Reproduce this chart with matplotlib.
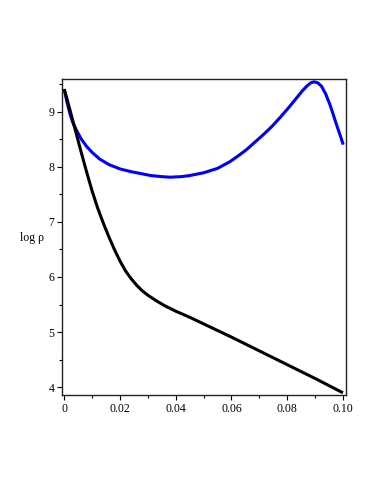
import matplotlib
matplotlib.use("Agg")
import matplotlib.pyplot as plt
from matplotlib.ticker import MultipleLocator, FixedLocator

# blue curve
x_blue = [0, 0.001, 0.002, 0.003, 0.0043, 0.006, 0.008, 0.010, 0.0127, 0.016,
          0.020, 0.024, 0.0271, 0.031, 0.035, 0.038, 0.042, 0.045, 0.050, 0.055,
          0.0594, 0.0625, 0.0654, 0.0685, 0.0714, 0.0745, 0.0774, 0.0805, 0.0834, 0.0855,
          0.0870, 0.0884, 0.0896, 0.0910, 0.0923, 0.0938, 0.0953, 0.0965, 0.0977, 0.0990,
          0.1001]
y_blue = [9.40, 9.17, 8.97, 8.81, 8.67, 8.51, 8.37, 8.26, 8.14, 8.04,
          7.96, 7.91, 7.88, 7.84, 7.82, 7.81, 7.82, 7.84, 7.89, 7.97,
          8.09, 8.20, 8.31, 8.45, 8.58, 8.73, 8.89, 9.07, 9.25, 9.38,
          9.46, 9.52, 9.54, 9.52, 9.46, 9.32, 9.13, 8.95, 8.76, 8.57,
          8.40]

# black curve
x_black = [0, 0.002, 0.004, 0.006, 0.008, 0.010, 0.012, 0.014, 0.016, 0.018,
           0.020, 0.022, 0.024, 0.026, 0.028, 0.030, 0.033, 0.036, 0.040, 0.045,
           0.050, 0.060, 0.070, 0.080, 0.090, 0.100]
y_black = [9.41, 9.04, 8.66, 8.28, 7.91, 7.56, 7.25, 6.98, 6.73, 6.50,
           6.29, 6.11, 5.97, 5.85, 5.75, 5.67, 5.57, 5.48, 5.38, 5.27,
           5.15, 4.91, 4.66, 4.41, 4.16, 3.90]

xticks = [0, 0.02, 0.04, 0.06, 0.08, 0.10]
xtick_labels = ["0", "0.02", "0.04", "0.06", "0.08", "0.10"]
yticks = [4, 5, 6, 7, 8, 9]

plt.rcParams['font.family'] = ['Liberation Serif', 'DejaVu Serif']

fig = plt.figure(figsize=(3.82, 4.94), dpi=100)
ax = fig.add_axes([0.1623, 0.2004, 0.7435, 0.6396])

ax.plot(x_blue, y_blue, color="#0000ff", lw=2.2, solid_capstyle="butt", solid_joinstyle="round")
ax.plot(x_black, y_black, color="black", lw=2.2, solid_capstyle="butt", solid_joinstyle="round")

ax.set_xlim(-0.0008, 0.1011)
ax.set_ylim(3.86, 9.59)

ax.xaxis.set_major_locator(FixedLocator(xticks))
ax.set_xticklabels(xtick_labels)
ax.xaxis.set_minor_locator(MultipleLocator(0.01))
ax.yaxis.set_major_locator(FixedLocator(yticks))
ax.yaxis.set_minor_locator(MultipleLocator(0.5))
ax.tick_params(which="major", direction="out", length=3.5, width=0.8, labelsize=8.5, pad=2)
ax.tick_params(which="minor", direction="out", length=2, width=0.8)
ax.tick_params(top=False, right=False)
for s in ax.spines.values():
    s.set_linewidth(1.0)
    s.set_color("#222222")

fig.text(32 / 382, 1 - 238 / 494, "log ρ", fontsize=8.5, ha="center", va="center")

fig.savefig("out.png", dpi=100)
